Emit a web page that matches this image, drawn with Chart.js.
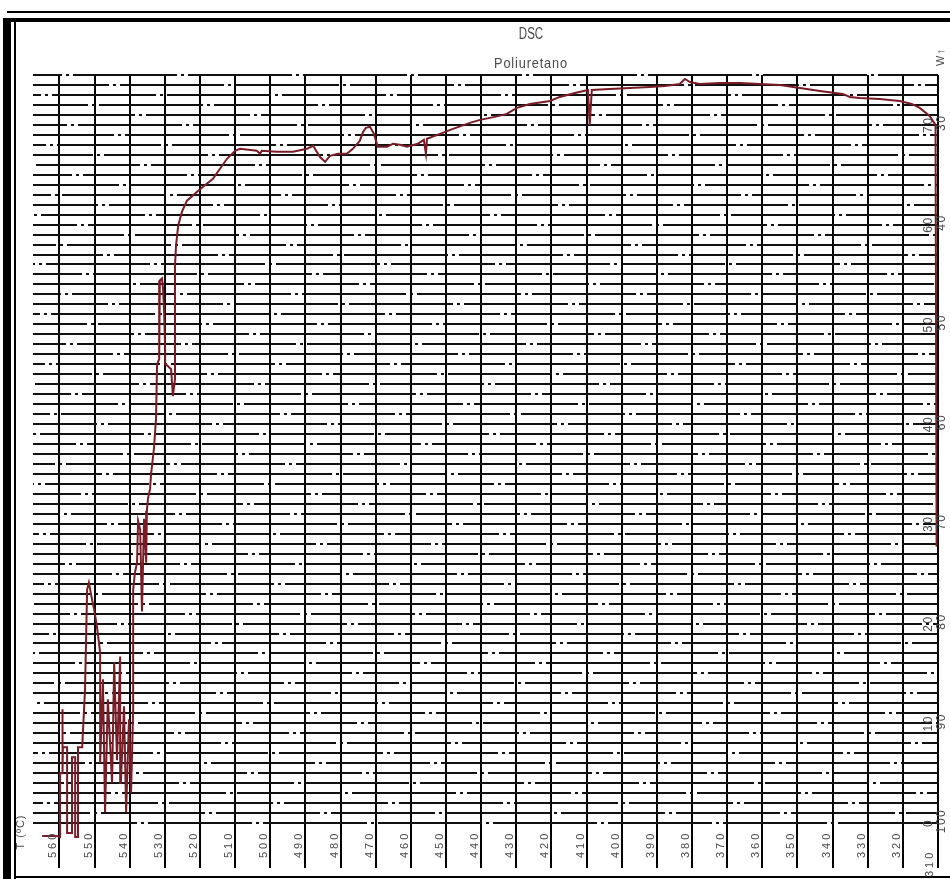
<!DOCTYPE html>
<html>
<head>
<meta charset="utf-8">
<title>DSC - Poliuretano</title>
<script src="https://cdn.jsdelivr.net/npm/chart.js@4/dist/chart.umd.min.js"></script>
<style>
  html, body { margin: 0; padding: 0; background: #fff; }
  #wrap { width: 950px; height: 879px; }
</style>
</head>
<body>
<div id="wrap"><canvas id="dsc" width="950" height="879"></canvas></div>
<script>
// Temperature (°C) of each recorded point, heating run read from 310 °C upward
const tempC = [
  310.4, 310.7, 312.4, 315.2, 317.5, 320.9, 326.6, 332.3, 335.1, 337.1,
  343.6, 349.3, 355.0, 360.7, 366.4, 372.1, 377.8, 380.6, 382.0, 383.5,
  387.7, 392.0, 397.7, 403.4, 408.5, 409.1, 409.6, 413.3, 417.6, 420.4,
  426.1, 429.8, 432.7, 436.1, 440.3, 443.2, 448.0, 451.7, 455.4, 455.7,
  456.3, 458.0, 461.1, 463.1, 465.1, 466.8, 469.4, 470.5, 471.6, 472.8,
  473.6, 474.5, 476.5, 478.2, 480.7, 483.0, 484.4, 485.9, 487.8, 489.6,
  493.5, 498.1, 502.4, 502.9, 503.8, 508.6, 510.0, 512.3, 514.3, 516.3,
  519.1, 520.8, 523.7, 525.1, 526.2, 526.8, 527.1, 527.1, 527.7, 528.2,
  529.7, 529.9, 530.2, 530.5, 530.8, 531.4, 531.6, 532.2, 532.5, 533.1,
  533.9, 534.2, 534.8, 535.1, 535.3, 535.9, 536.5, 537.0, 537.6, 537.9,
  538.5, 539.0, 539.0, 539.6, 540.2, 541.0, 541.6, 542.5, 542.7, 543.6,
  544.4, 545.0, 546.2, 547.0, 547.6, 548.4, 548.4, 549.3, 550.1, 550.7,
  551.6, 552.1, 552.7, 553.5, 554.7, 554.7, 555.5, 555.5, 556.4, 556.4,
  557.8, 557.8, 559.0, 559.0, 559.2, 559.8, 559.8, 560.7, 564.9
];

// Signal read on the right-hand scale at each temperature
const signal = [
  27.7, 70.0, 70.9, 71.7, 72.1, 72.4, 72.6, 72.7, 72.8, 73.1,
  73.4, 73.7, 74.0, 74.1, 74.2, 74.2, 74.1, 74.3, 74.6, 74.1,
  73.9, 73.8, 73.7, 73.6, 73.5, 70.0, 73.5, 73.2, 72.8, 72.4,
  72.1, 71.7, 71.1, 70.8, 70.5, 70.2, 69.6, 69.1, 68.6, 67.1,
  68.5, 68.1, 67.8, 68.0, 68.1, 67.8, 67.8, 69.1, 69.8, 69.7,
  69.3, 68.4, 67.6, 67.1, 67.1, 66.9, 66.3, 66.8, 67.9, 67.6,
  67.3, 67.3, 67.4, 67.1, 67.4, 67.6, 67.4, 66.6, 65.6, 64.6,
  63.8, 63.3, 62.4, 61.3, 59.9, 57.9, 55.9, 44.5, 42.8, 45.5,
  46.0, 47.5, 51.3, 53.6, 54.6, 54.4, 46.5, 46.0, 40.5, 37.5,
  35.0, 33.5, 32.5, 31.3, 26.1, 30.5, 21.2, 29.4, 30.3, 26.1,
  25.1, 23.4, 11.4, 3.0, 10.4, 1.1, 11.7, 4.0, 16.7, 6.3,
  16.1, 4.0, 12.4, 1.1, 14.4, 6.0, 17.1, 19.7, 21.4, 22.4,
  24.1, 23.4, 13.4, 7.6, 7.6, -1.4, -1.4, 6.6, 6.6, -1.0,
  -1.0, 7.6, 7.6, 11.4, 5.0, 5.0, -1.4, -1.3, -1.3
];

// Temperature axis ticks (axis runs from hot on the left to cool on the right)
const tempTicks = [560, 550, 540, 530, 520, 510, 500, 490, 480, 470, 460, 450, 440,
                   430, 420, 410, 400, 390, 380, 370, 360, 350, 340, 330, 320, 310];
const tempLabels = tempTicks.map(String);

// Right-hand scale: inner column counts up, outer column is its complement
const scaleTicks = [0, 10, 20, 30, 40, 50, 60, 70];
const innerLabels = ['0', '10', '20', '30', '40', '50', '60', '70'];
const outerLabels = ['100', '90', '80', '70', '60', '50', '40', '30'];

const titleText = 'DSC';
const subtitleText = 'Poliuretano';
const xAxisName = 'T (ºC)';
const yAxisName = 'W↑';

const curve = tempC.map((t, i) => ({ x: t, y: signal[i] }));

const TEXT_FONT = "'Liberation Sans', Arial, sans-serif";
const TEXT_GRAY = '#4a4a4a';

// Double frame around the sheet
const sheetFrame = {
  id: 'sheetFrame',
  beforeDraw(chart) {
    const c = chart.ctx;
    c.save();
    c.fillStyle = '#fff';
    c.fillRect(0, 0, chart.width, chart.height);
    c.fillStyle = '#000';
    c.fillRect(7, 11, 943, 2);   // thin top rule
    c.fillRect(3, 18, 947, 4);   // heavy top rule
    c.fillRect(3, 18, 8, 861);   // heavy left rule
    c.fillRect(14, 22, 2, 857);  // thin left rule
    c.fillRect(14, 876, 936, 2); // bottom rule
    c.restore();
  }
};

function rotatedText(c, text, x, y, align, spacing) {
  c.save();
  c.translate(x, y);
  c.rotate(-Math.PI / 2);
  c.textAlign = align;
  c.textBaseline = 'middle';
  if ('letterSpacing' in c) c.letterSpacing = spacing + 'px';
  c.fillText(text, 0, 0);
  c.restore();
}

// Axis labels, scale numbers and titles
const sheetText = {
  id: 'sheetText',
  afterDraw(chart) {
    const c = chart.ctx;
    const xs = chart.scales.x;
    const ys = chart.scales.y;
    c.save();
    c.fillStyle = TEXT_GRAY;

    c.font = '11px ' + TEXT_FONT;
    tempTicks.forEach((v, i) => {
      const px = xs.getPixelForValue(v);
      const last = i === tempTicks.length - 1;
      rotatedText(c, tempLabels[i], px - (last ? 8 : 6), last ? 877 : 858, 'left', 3);
    });

    c.font = '12px ' + TEXT_FONT;
    scaleTicks.forEach((v, i) => {
      const py = ys.getPixelForValue(v);
      rotatedText(c, innerLabels[i], 929, py, 'center', 1.5);
      rotatedText(c, outerLabels[i], 942, py - 2, 'center', 1.5);
    });

    c.font = '11px ' + TEXT_FONT;
    rotatedText(c, xAxisName, 21, 832, 'center', 1);
    rotatedText(c, yAxisName, 941, 57, 'center', 1);

    c.textAlign = 'center';
    c.textBaseline = 'middle';
    c.save();
    c.translate(531, 35);
    c.scale(0.72, 1);
    c.font = '16px ' + TEXT_FONT;
    c.fillText(titleText, 0, 0);
    c.restore();

    c.save();
    c.translate(531, 64);
    c.scale(0.85, 1);
    c.font = '15px ' + TEXT_FONT;
    if ('letterSpacing' in c) c.letterSpacing = '1px';
    c.fillText(subtitleText, 0, 0);
    c.restore();
    c.restore();
  }
};

new Chart(document.getElementById('dsc'), {
  type: 'line',
  data: {
    datasets: [{
      data: curve,
      borderColor: '#7a1c26',
      borderWidth: 2,
      pointRadius: 0,
      tension: 0,
      fill: false,
      clip: false
    }]
  },
  options: {
    responsive: false,
    animation: false,
    events: [],
    layout: { padding: { left: 33, top: 75, right: 12, bottom: 11 } },
    plugins: {
      legend: { display: false },
      tooltip: { enabled: false },
      title: { display: false }
    },
    scales: {
      x: {
        type: 'linear',
        reverse: true,
        min: 310,
        max: 567.5,
        afterBuildTicks(scale) { scale.ticks = tempTicks.map(v => ({ value: v })); },
        ticks: { display: false },
        grid: { color: '#000', lineWidth: 2, drawTicks: true, tickLength: 45 },
        border: { display: false }
      },
      y: {
        type: 'linear',
        position: 'right',
        min: 0,
        max: 75,
        ticks: { display: false, stepSize: 1 },
        grid: { color: '#111', lineWidth: 2, drawTicks: false },
        // chart-paper rulings: long dashes broken by a dash-dot, staggered row to row
        border: {
          display: false,
          dash: [104, 4, 3, 4],
          dashOffset: (ctx) => ((ctx.index || 0) * 47) % 115
        }
      }
    }
  },
  plugins: [sheetFrame, sheetText]
});
</script>
</body>
</html>
